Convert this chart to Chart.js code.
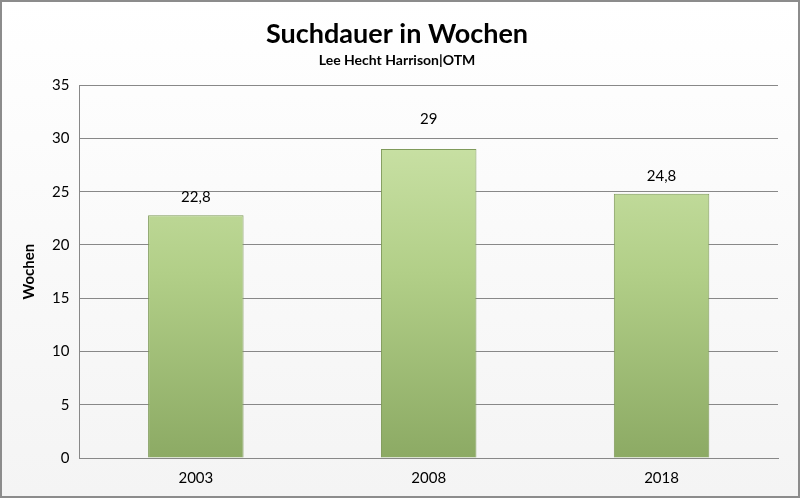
<!DOCTYPE html>
<html><head><meta charset="utf-8">
<script src="https://cdn.jsdelivr.net/npm/chart.js@4"></script>
<style>
html,body{margin:0;padding:0;background:#fff;}
#wrap{position:absolute;left:0;top:0;width:796px;height:494px;border:2px solid #8c8c8c;background:linear-gradient(#ffffff,#f4f4f4);}
</style></head><body>
<div id="wrap"><canvas id="c" width="796" height="494"></canvas></div>
<script>
const categories = ['2003','2008','2018'];
const values = [22.8, 29, 24.8];
const valueLabels = ['22,8','29','24,8'];

const labelPlugin = {
  id:'lbl',
  afterDatasetsDraw(chart){
    const ctx = chart.ctx;
    const meta = chart.getDatasetMeta(0);
    ctx.save();
    ctx.font = '15px Lato';
    ctx.fillStyle = '#000';
    ctx.textAlign = 'center';
    ctx.textBaseline = 'bottom';
    meta.data.forEach((b,i)=>{ ctx.fillText(valueLabels[i], b.x, b.y - 10 - (i===1?12:0)); });
    ctx.restore();
  }
};

new Chart(document.getElementById('c'), {
  type:'bar',
  data:{labels:categories, datasets:[{
    data:values,
    backgroundColor(ctx){
      const ch = ctx.chart; const a = ch.chartArea;
      if(!a) return '#b5d08a';
      const g = ch.ctx.createLinearGradient(0,a.top,0,a.bottom);
      g.addColorStop(0,'#d2e8b0'); g.addColorStop(0.5,'#b2cf88'); g.addColorStop(1,'#8caa64');
      return g;
    },
    borderColor:'#7f9a5a', borderWidth:1,
    categoryPercentage:0.41, barPercentage:1
  }]},
  options:{
    responsive:false, animation:false,
    layout:{padding:{left:14,right:20,top:6,bottom:6}},
    plugins:{
      legend:{display:false}, tooltip:{enabled:false},
      title:{display:true,text:'Suchdauer in Wochen',font:{family:'Lato',size:27,weight:'bold'},color:'#000',padding:{top:10,bottom:2}},
      subtitle:{display:true,text:'Lee Hecht Harrison|OTM',font:{family:'Lato',size:14,weight:'bold'},color:'#000',padding:{bottom:16}}
    },
    scales:{
      x:{grid:{display:false},border:{color:'#888'},ticks:{font:{family:'Lato',size:15},color:'#000'}},
      y:{min:0,max:35,ticks:{stepSize:5,font:{family:'Lato',size:15},color:'#000',padding:10},
        grid:{color:'#888',drawTicks:false},border:{color:'#888'},
        title:{display:true,text:'Wochen',font:{family:'Lato',size:15,weight:'bold'},color:'#000'}}
    }
  },
  plugins:[labelPlugin]
});
</script></body></html>
